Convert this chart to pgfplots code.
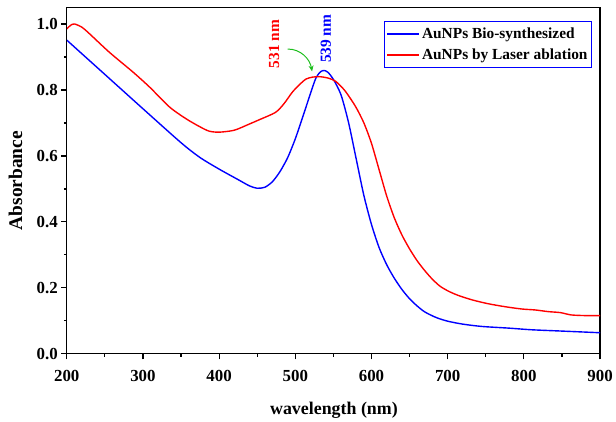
\documentclass[border=0pt]{standalone}
\usepackage{fontspec}
\setmainfont{Liberation Serif}
\usepackage{pgfplots}
\usepackage{pgfplotstable}
\pgfplotsset{compat=1.18}
\usetikzlibrary{arrows.meta}
\definecolor{myblue}{RGB}{0,0,255}
\definecolor{myred}{RGB}{255,0,0}
\definecolor{mygreen}{RGB}{30,190,30}

\pgfplotstableread{
x y
200 0.951
250 0.847
300 0.743
350 0.640
375 0.595
400 0.560
425 0.528
440 0.509
450 0.502
460 0.505
470 0.522
480 0.553
490 0.595
500 0.652
510 0.720
520 0.790
527 0.836
533 0.855
538 0.859
543 0.853
550 0.832
560 0.785
570 0.700
580 0.590
590 0.480
600 0.392
610 0.322
620 0.270
630 0.229
640 0.195
650 0.167
660 0.145
670 0.127
685 0.110
700 0.099
720 0.090
745 0.083
780 0.078
810 0.073
850 0.069
900 0.064
}\bioTable

\pgfplotstableread{
x y
200 0.985
205 0.996
210 1.000
220 0.990
230 0.970
256 0.914
287 0.854
309 0.808
335 0.748
357 0.712
375 0.688
387 0.675
400 0.672
420 0.678
440 0.697
453 0.710
474 0.732
485 0.758
496 0.793
505 0.815
514 0.833
523 0.839
533 0.840
543 0.836
553 0.826
565 0.798
579 0.750
590 0.700
600 0.638
610 0.558
620 0.478
630 0.412
640 0.360
650 0.318
660 0.282
670 0.252
680 0.226
690 0.205
701 0.190
714 0.177
733 0.163
753 0.152
775 0.143
797 0.136
815 0.133
832 0.128
848 0.125
862 0.118
880 0.116
900 0.116
}\laserTable

\begin{document}
\begin{tikzpicture}
\begin{axis}[
  scale only axis,
  width=535bp, height=347.5bp,
  xmin=200, xmax=900, ymin=0, ymax=1.05,
  xtick={200,300,...,900},
  ytick={0,0.2,0.4,0.6,0.8,1.0},
  minor x tick num=1, minor y tick num=1,
  tick align=outside,
  xtick pos=left, ytick pos=left,
  major tick length=5.5bp, minor tick length=3bp,
  tick style={black, line width=1.2bp},
  axis line style={line width=1.3bp},
  /pgf/number format/assume math mode=true,
  tick label style={font=\bfseries\fontsize{17}{20}\selectfont},
  xticklabel style={/pgf/number format/.cd, fixed, precision=0, /tikz/.cd, yshift=-7bp},
  yticklabel style={/pgf/number format/.cd, fixed, fixed zerofill, precision=1},
  xlabel={wavelength (nm)},
  ylabel={Absorbance},
  xlabel style={font=\bfseries\fontsize{18}{21}\selectfont, at={(axis description cs:0.501,-0.162)}, anchor=center},
  ylabel style={font=\bfseries\fontsize{19.5}{22}\selectfont, at={(axis description cs:-0.096,0.5)}, anchor=center},
  legend style={at={(rel axis cs:0.985,0.961)}, anchor=north east, draw=myblue, line width=1bp,
    font=\bfseries\fontsize{15.5}{17}\selectfont, inner xsep=2bp, inner ysep=4.5bp, row sep=5bp, cells={anchor=west}},
  legend image code/.code={\draw[#1] (0bp,0bp) -- (32bp,0bp);},
]
\addlegendimage{color=myblue, line width=1.6bp}
\addlegendentry{AuNPs Bio-synthesized}
\addlegendimage{color=myred, line width=1.6bp}
\addlegendentry{AuNPs by Laser ablation}
\addplot[color=myblue, line width=1.4bp, smooth, tension=0.45, forget plot] table[x=x, y=y] {\bioTable};
\addplot[color=myred, line width=1.4bp, smooth, tension=0.45, forget plot] table[x=x, y=y] {\laserTable};

\node[myred, rotate=90, font=\bfseries\fontsize{15.5}{17}\selectfont] at (axis cs:472,0.939) {531 nm};
\node[myblue, rotate=90, font=\bfseries\fontsize{15.5}{17}\selectfont] at (axis cs:540,0.955) {539 nm};
\draw[mygreen, line width=1bp, -{Stealth[length=6bp,width=5bp]}] (axis cs:490,0.924) to[out=0,in=100] (axis cs:522,0.856);
\end{axis}
\path ([xshift=-67bp,yshift=-66bp]current axis.south west) rectangle ([xshift=14bp,yshift=7.5bp]current axis.north east);
\end{tikzpicture}
\end{document}
